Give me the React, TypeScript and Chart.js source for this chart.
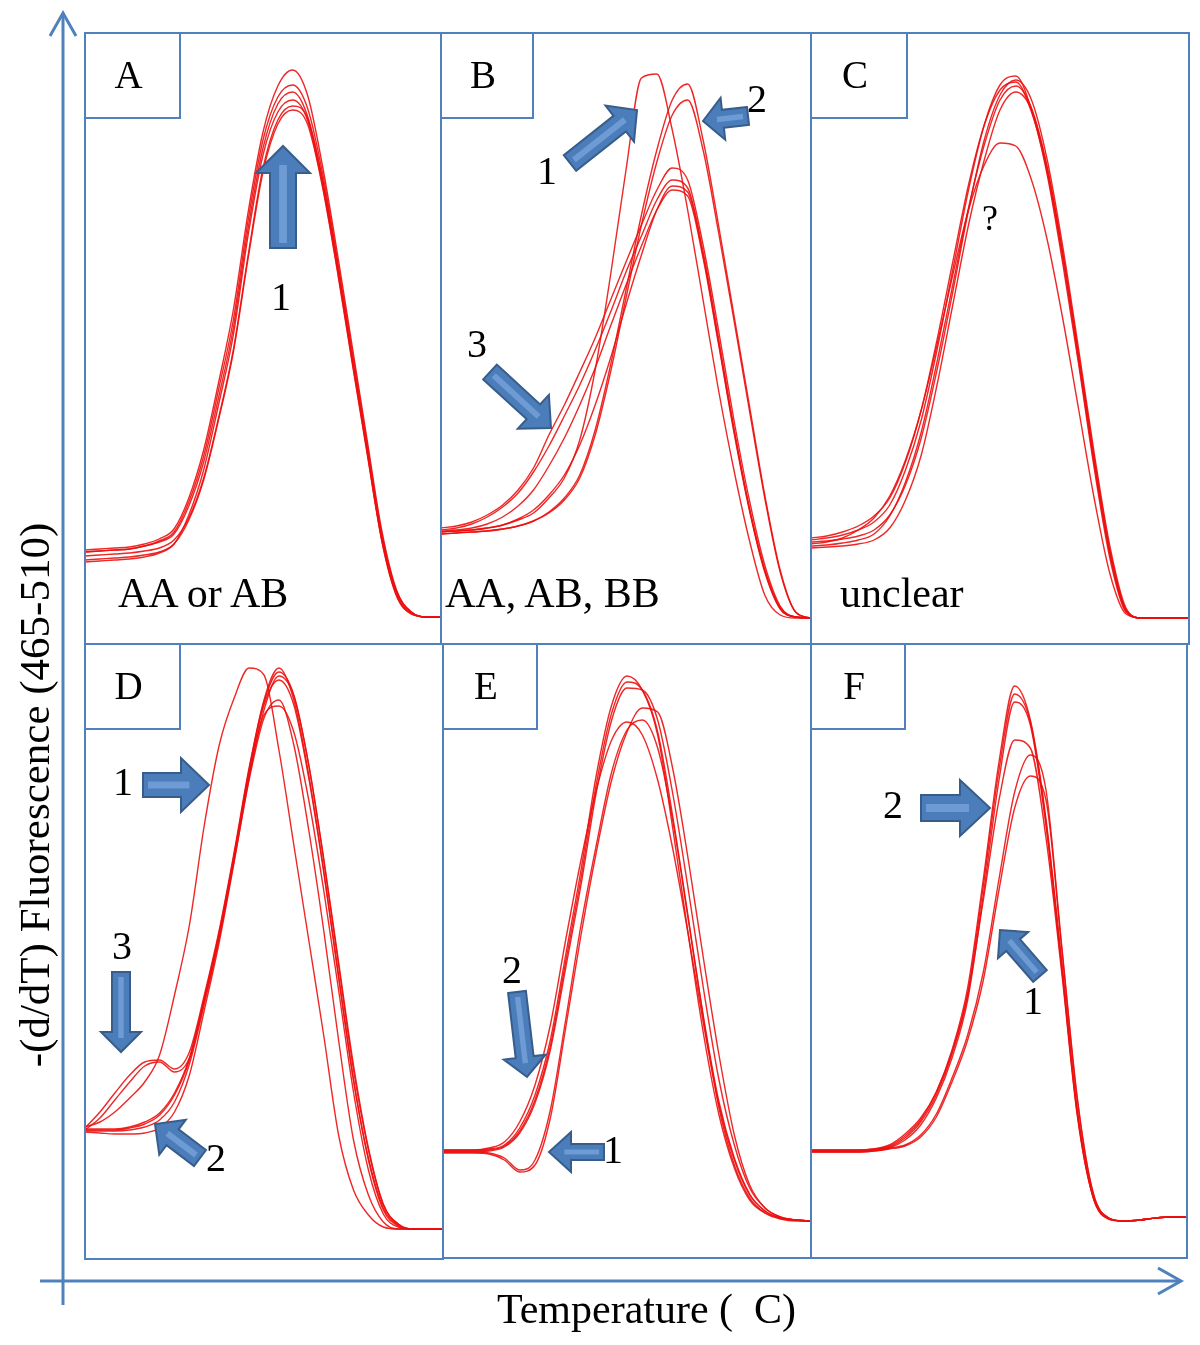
import React, { useEffect, useRef } from "react";
import { Chart, registerables } from "chart.js";

Chart.register(...registerables);

// Temperature grid (°C, arbitrary, no tick labels drawn in the figure)
const TEMPS = ["60.0","61.5","63.0","64.5","66.0","67.5","69.0","70.5","72.0","73.5","75.0","76.5","78.0","79.5","81.0","82.5","84.0","85.5","87.0","88.5","90.0","91.5","93.0","94.5","96.0"];

// Panel A: AA or AB
const A_1 = [94,95,96,97,100,105,115,146,194,261,334,432,512,558,574,549,479,392,299,206,114,54,32,27,27];
const A_2 = [92,93,94,95,98,103,112,142,188,254,324,424,504,547,559,536,472,386,294,202,111,53,32,27,27];
const A_3 = [92,93,94,95,98,102,110,138,182,246,316,416,496,540,552,528,464,380,288,198,108,52,32,27,27];
const A_4 = [82,83,84,85,87,91,100,129,174,239,309,409,489,532,544,524,460,376,284,194,106,50,31,27,27];
const A_5 = [88,89,90,91,93,96,104,126,166,226,294,389,476,524,538,526,466,382,288,196,104,48,30,27,27];
const A_6 = [84,85,86,87,89,92,100,124,164,224,292,386,472,520,534,520,458,374,282,192,104,49,30,27,27];

// Panel B: AA, AB, BB
const B_1 = [112,113,114,116,119,124,131,146,166,204,274,369,474,566,570,514,434,344,254,174,104,49,29,26,26];
const B_2a = [110,111,112,113,115,118,123,132,146,169,214,279,354,429,494,544,560,504,419,329,239,149,74,32,26];
const B_2b = [110,111,112,113,115,118,123,131,144,166,209,272,346,419,482,529,544,494,412,324,234,146,72,32,26];
const B_3a = [116,118,122,129,139,154,176,209,239,272,306,344,382,419,454,476,464,399,314,224,144,79,38,27,26];
const B_3b = [114,116,120,127,137,151,172,198,228,259,294,332,372,408,444,464,456,392,306,216,136,74,36,27,26];
const B_3c = [113,114,116,120,127,138,154,178,206,239,276,318,359,398,434,454,448,386,300,212,134,72,35,27,26];
const B_4 = [112,113,114,116,119,125,134,149,169,199,239,286,339,389,434,458,452,389,302,214,136,74,36,27,26];

// Panel C: unclear
const C_1 = [104,106,109,114,122,139,174,224,294,374,454,519,559,568,534,469,379,279,174,84,32,26,26,26,26];
const C_2 = [102,103,105,108,114,129,159,206,274,352,434,504,549,564,544,484,396,294,189,96,36,26,26,26,26];
const C_3 = [98,99,101,104,110,128,162,212,282,359,436,499,544,558,536,476,389,288,184,92,34,26,26,26,26];
const C_4 = [96,97,98,100,104,116,144,189,259,339,419,484,534,552,534,476,389,288,182,90,33,26,26,26,26];
const C_5 = [100,102,106,114,126,148,184,234,299,369,434,479,501,498,464,404,324,234,144,69,30,26,26,26,26];
const C_6 = [106,108,112,118,128,146,182,234,304,382,459,519,554,562,532,472,384,282,178,88,34,26,26,26,26];

// Panel D
const D_1 = [132,137,147,161,177,204,264,334,434,514,561,591,584,509,414,319,224,124,69,44,32,30,30,30,30];
const D_2 = [129,129,129,131,135,144,164,199,259,324,404,489,559,591,559,484,389,284,179,99,49,33,30,30,30];
const D_3a = [131,147,166,184,197,199,190,207,264,329,407,491,557,587,564,494,399,294,189,109,54,35,30,30,30];
const D_3b = [129,141,159,177,193,197,187,201,259,323,401,487,554,579,554,481,387,281,179,101,51,34,30,30,30];
const D_4 = [127,126,125,125,126,131,147,184,249,317,397,481,549,583,563,494,401,297,194,111,55,35,30,30,30];
const D_5 = [128,128,128,129,132,139,157,195,255,321,399,479,541,559,514,429,329,219,119,64,37,30,30,30,30];
const D_6 = [130,130,130,132,137,146,166,201,261,327,404,484,544,553,527,459,369,269,167,89,45,32,30,30,30];

// Panel E
const E_1 = [108,108,108,109,113,130,163,218,303,388,483,553,582,568,523,428,323,223,143,90,58,45,40,38,37];
const E_2 = [107,107,107,108,112,127,158,212,296,380,474,545,576,568,526,440,340,240,156,100,64,47,40,38,37];
const E_3 = [106,106,106,107,111,125,155,208,290,373,466,538,570,568,538,463,368,268,178,113,70,50,41,38,37];
const E_4 = [106,106,106,105,100,88,98,148,238,333,413,486,528,538,510,436,338,238,150,93,60,45,39,37,37];
const E_5 = [105,105,105,104,98,86,93,140,230,323,406,478,526,550,546,488,398,298,203,123,73,50,41,38,37];
const E_6 = [108,108,108,110,116,136,173,233,318,398,468,518,536,523,478,408,323,233,153,98,63,47,40,38,37];

// Panel F
const F_1 = [108,108,108,108,109,112,122,138,166,208,270,379,496,572,538,439,297,148,63,40,37,38,40,41,41];
const F_2 = [107,107,107,107,108,111,120,136,163,204,264,372,488,564,536,436,294,146,62,40,37,38,40,41,41];
const F_3 = [106,106,106,106,107,110,118,133,160,200,258,363,478,556,533,432,290,144,61,39,37,38,40,41,41];
const F_4 = [108,108,108,108,109,113,124,140,166,206,263,358,458,518,510,420,286,142,61,39,37,38,40,41,41];
const F_5 = [107,107,107,107,108,110,113,123,144,180,223,286,379,466,503,468,313,160,66,40,37,38,40,41,41];
const F_6 = [106,106,106,106,107,109,112,121,141,176,218,278,368,450,482,458,310,158,65,40,37,38,40,41,41];

const PANEL_LETTERS = ["A", "B", "C", "D", "E", "F"];
const PANEL_NOTES = ["AA or AB", "AA, AB, BB", "unclear"];
const Y_TITLE = "-(d/dT) Fluorescence (465-510)";
const X_TITLE = "Temperature (  C)";

type Panel = {
  letter: string;
  left: number;
  top: number;
  width: number;
  height: number;
  curves: number[][];
  boxW: number;
};

const PANELS: Panel[] = [
  { letter: PANEL_LETTERS[0], left: 85, top: 33, width: 356, height: 611, boxW: 95, curves: [A_1, A_2, A_3, A_4, A_5, A_6] },
  { letter: PANEL_LETTERS[1], left: 441, top: 33, width: 370, height: 611, boxW: 92, curves: [B_1, B_2a, B_2b, B_3a, B_3b, B_3c, B_4] },
  { letter: PANEL_LETTERS[2], left: 811, top: 33, width: 378, height: 611, boxW: 96, curves: [C_1, C_2, C_3, C_4, C_5, C_6] },
  { letter: PANEL_LETTERS[3], left: 85, top: 644, width: 358, height: 615, boxW: 95, curves: [D_1, D_2, D_3a, D_3b, D_4, D_5, D_6] },
  { letter: PANEL_LETTERS[4], left: 443, top: 644, width: 368, height: 614, boxW: 94, curves: [E_1, E_2, E_3, E_4, E_5, E_6] },
  { letter: PANEL_LETTERS[5], left: 811, top: 644, width: 376, height: 614, boxW: 94, curves: [F_1, F_2, F_3, F_4, F_5, F_6] },
];

const BLUE = "#4F81BD";
const SERIF = "Liberation Serif, Times New Roman, DejaVu Serif, serif";
const TXT = { fontFamily: SERIF } as React.CSSProperties;

function PanelChart({ p }: { p: Panel }) {
  const ref = useRef<HTMLCanvasElement>(null);
  useEffect(() => {
    const chart = new Chart(ref.current as HTMLCanvasElement, {
      type: "line",
      data: {
        labels: TEMPS,
        datasets: p.curves.map((c) => ({
          data: c,
          borderColor: "rgba(236,16,16,0.9)",
          borderWidth: 1.4,
          pointRadius: 0,
          fill: false,
          cubicInterpolationMode: "monotone" as const,
        })),
      },
      options: {
        animation: false,
        responsive: false,
        maintainAspectRatio: false,
        events: [],
        layout: { padding: 0 },
        plugins: { legend: { display: false }, tooltip: { enabled: false } },
        scales: {
          x: { type: "category", display: false, offset: false },
          y: { type: "linear", display: false, min: 0, max: p.height },
        },
      },
    });
    return () => chart.destroy();
  }, []);
  return (
    <canvas
      ref={ref}
      width={p.width}
      height={p.height}
      style={{ position: "absolute", left: p.left, top: p.top, width: p.width, height: p.height }}
    />
  );
}

type Arrow = { tail: [number, number]; tip: [number, number]; sw: number; hw: number; hl: number };
const ARROWS: Arrow[] = [
  { tail: [283, 248], tip: [283, 146], sw: 26, hw: 54, hl: 27 },
  { tail: [570, 163], tip: [637, 110], sw: 20, hw: 46, hl: 22 },
  { tail: [748, 116], tip: [703, 121], sw: 18, hw: 42, hl: 20 },
  { tail: [490, 372], tip: [551, 428], sw: 20, hw: 46, hl: 24 },
  { tail: [143, 785], tip: [209, 785], sw: 24, hw: 54, hl: 28 },
  { tail: [121, 972], tip: [121, 1052], sw: 18, hw: 40, hl: 20 },
  { tail: [200, 1158], tip: [155, 1124], sw: 20, hw: 44, hl: 22 },
  { tail: [517, 992], tip: [527, 1077], sw: 18, hw: 42, hl: 20 },
  { tail: [604, 1152], tip: [549, 1152], sw: 16, hw: 40, hl: 22 },
  { tail: [921, 808], tip: [990, 808], sw: 26, hw: 56, hl: 30 },
  { tail: [1040, 976], tip: [1000, 930], sw: 18, hw: 40, hl: 20 },
];

const NUMBER_LABELS: { t: string; x: number; y: number; s: number }[] = [
  { t: "1", x: 281, y: 310, s: 40 },
  { t: "1", x: 547, y: 184, s: 40 },
  { t: "2", x: 757, y: 112, s: 40 },
  { t: "3", x: 477, y: 357, s: 40 },
  { t: "?", x: 990, y: 230, s: 36 },
  { t: "1", x: 123, y: 795, s: 40 },
  { t: "3", x: 122, y: 959, s: 40 },
  { t: "2", x: 216, y: 1171, s: 40 },
  { t: "2", x: 512, y: 983, s: 40 },
  { t: "1", x: 613, y: 1163, s: 40 },
  { t: "2", x: 893, y: 818, s: 40 },
  { t: "1", x: 1033, y: 1014, s: 40 },
];

function arrowPoints(a: Arrow) {
  const [tx, ty] = a.tail;
  const [px, py] = a.tip;
  const len = Math.hypot(px - tx, py - ty);
  const dx = (px - tx) / len;
  const dy = (py - ty) / len;
  const nx = -dy;
  const ny = dx;
  const bx = px - dx * a.hl;
  const by = py - dy * a.hl;
  const s = a.sw / 2;
  const h = a.hw / 2;
  const pts = [
    [tx + nx * s, ty + ny * s],
    [bx + nx * s, by + ny * s],
    [bx + nx * h, by + ny * h],
    [px, py],
    [bx - nx * h, by - ny * h],
    [bx - nx * s, by - ny * s],
    [tx - nx * s, ty - ny * s],
  ];
  return {
    poly: pts.map((q) => q[0].toFixed(1) + "," + q[1].toFixed(1)).join(" "),
    inner: [tx + dx * 5, ty + dy * 5, bx + dx * a.hl * 0.3, by + dy * a.hl * 0.3],
  };
}

export default function App() {
  return (
    <div style={{ position: "absolute", left: 0, top: 0, width: 1200, height: 1345, background: "#ffffff", overflow: "hidden" }}>
      {PANELS.map((p) => (
        <PanelChart key={p.letter} p={p} />
      ))}
      <svg width={1200} height={1345} style={{ position: "absolute", left: 0, top: 0, fontFamily: SERIF }}>
        {PANELS.map((p) => (
          <rect key={"f" + p.letter} x={p.left} y={p.top} width={p.width} height={p.height} fill="none" stroke={BLUE} strokeWidth={2} />
        ))}
        {PANELS.map((p) => (
          <g key={"b" + p.letter}>
            <rect x={p.left} y={p.top} width={p.boxW} height={85} fill="#ffffff" stroke={BLUE} strokeWidth={2} />
            <text x={p.left + p.boxW / 2 - 4} y={p.top + 55} style={TXT} fontSize={39} textAnchor="middle" fill="#000">
              {p.letter}
            </text>
          </g>
        ))}
        <text x={118} y={607} style={TXT} fontSize={42} fill="#000">{PANEL_NOTES[0]}</text>
        <text x={445} y={607} style={TXT} fontSize={42} fill="#000">{PANEL_NOTES[1]}</text>
        <text x={840} y={607} style={TXT} fontSize={42} fill="#000">{PANEL_NOTES[2]}</text>
        {ARROWS.map((a, i) => {
          const g = arrowPoints(a);
          return (
            <g key={"a" + i}>
              <polygon points={g.poly} fill="#4A7DBA" stroke="#385D8A" strokeWidth={2} strokeLinejoin="miter" />
              <line x1={g.inner[0]} y1={g.inner[1]} x2={g.inner[2]} y2={g.inner[3]} stroke="#6E9BD3" strokeWidth={Math.max(3, a.sw * 0.3)} />
            </g>
          );
        })}
        {NUMBER_LABELS.map((n, i) => (
          <text key={"n" + i} x={n.x} y={n.y} style={TXT} fontSize={n.s} textAnchor="middle" fill="#000">
            {n.t}
          </text>
        ))}
        <line x1={63} y1={13} x2={63} y2={1305} stroke={BLUE} strokeWidth={3} />
        <polyline points="50,36 63,13 76,36" fill="none" stroke={BLUE} strokeWidth={3} />
        <line x1={40} y1={1281} x2={1180} y2={1281} stroke={BLUE} strokeWidth={3} />
        <polyline points="1158,1268 1181,1281 1158,1294" fill="none" stroke={BLUE} strokeWidth={3} />
        <text transform="translate(49,795) rotate(-90)" style={TXT} fontSize={43} textAnchor="middle" fill="#000">
          {Y_TITLE}
        </text>
        <text x={497} y={1323} style={{ fontFamily: SERIF, whiteSpace: "pre" }} fontSize={42} fill="#000" xmlSpace="preserve">
          {X_TITLE}
        </text>
      </svg>
    </div>
  );
}
